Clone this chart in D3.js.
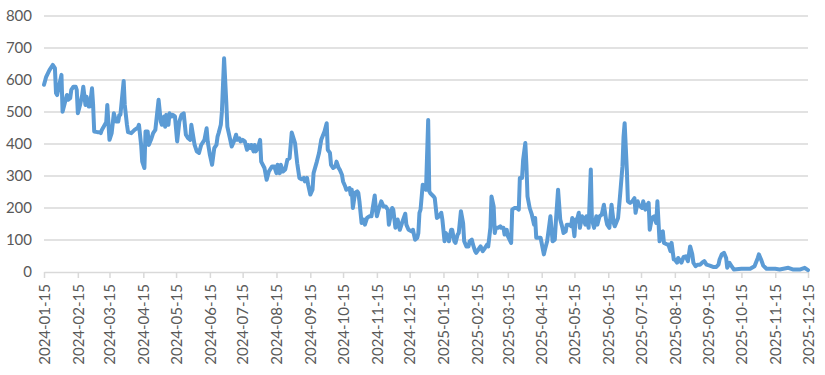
<!DOCTYPE html>
<html>
<head>
<script src="https://cdn.jsdelivr.net/npm/d3@7"></script>
<style>
body {
	margin: 0;
	background-color: white;
}
text {
	font-family: Lato, "Liberation Sans", sans-serif;
	font-size: 15px;
	fill: #595959;
}
</style>
</head>
<body>
<script>

var dates = [
	"2024-01-15","2024-01-17","2024-01-20","2024-01-23","2024-01-25","2024-01-26","2024-01-27","2024-01-29","2024-01-31",
	"2024-02-01","2024-02-03","2024-02-05","2024-02-06","2024-02-08","2024-02-09","2024-02-11","2024-02-13","2024-02-14","2024-02-15","2024-02-17","2024-02-19","2024-02-20","2024-02-22","2024-02-23","2024-02-25","2024-02-26","2024-02-28","2024-02-29",
	"2024-03-01","2024-03-04","2024-03-06","2024-03-07","2024-03-08","2024-03-12","2024-03-13","2024-03-15","2024-03-17","2024-03-19","2024-03-21","2024-03-23","2024-03-24","2024-03-25","2024-03-28","2024-03-29","2024-03-31",
	"2024-04-01","2024-04-04","2024-04-07","2024-04-10","2024-04-11","2024-04-13","2024-04-14","2024-04-16","2024-04-17","2024-04-19","2024-04-20","2024-04-22","2024-04-24","2024-04-26","2024-04-27","2024-04-29",
	"2024-05-01","2024-05-02","2024-05-04","2024-05-05","2024-05-06","2024-05-08","2024-05-09","2024-05-11","2024-05-12","2024-05-14","2024-05-16","2024-05-18","2024-05-20","2024-05-22","2024-05-24","2024-05-26","2024-05-28","2024-05-29","2024-05-30",
	"2024-06-01","2024-06-03","2024-06-05","2024-06-07","2024-06-10","2024-06-12","2024-06-13","2024-06-15","2024-06-17","2024-06-19","2024-06-21","2024-06-22","2024-06-23","2024-06-25","2024-06-26","2024-06-28","2024-06-30",
	"2024-07-01","2024-07-03","2024-07-05","2024-07-07","2024-07-09","2024-07-10","2024-07-12","2024-07-13","2024-07-15","2024-07-17","2024-07-19","2024-07-20","2024-07-22","2024-07-23","2024-07-25","2024-07-26","2024-07-27","2024-07-29","2024-07-31",
	"2024-08-01","2024-08-04","2024-08-06","2024-08-08","2024-08-11","2024-08-13","2024-08-15","2024-08-16","2024-08-18","2024-08-19","2024-08-21","2024-08-23","2024-08-25","2024-08-27","2024-08-29",
	"2024-09-01","2024-09-03","2024-09-05","2024-09-07","2024-09-09","2024-09-10","2024-09-12","2024-09-13","2024-09-15","2024-09-17","2024-09-18","2024-09-21","2024-09-23","2024-09-25","2024-09-28","2024-09-30",
	"2024-10-01","2024-10-03","2024-10-04","2024-10-06","2024-10-08","2024-10-09","2024-10-11","2024-10-12","2024-10-14","2024-10-15","2024-10-17","2024-10-18","2024-10-21","2024-10-22","2024-10-23","2024-10-24","2024-10-26","2024-10-28","2024-10-29","2024-10-30",
	"2024-11-01","2024-11-03","2024-11-04","2024-11-06","2024-11-08","2024-11-10","2024-11-13","2024-11-14","2024-11-15","2024-11-17","2024-11-19","2024-11-21","2024-11-23","2024-11-25","2024-11-26","2024-11-29","2024-11-30",
	"2024-12-02","2024-12-04","2024-12-06","2024-12-08","2024-12-11","2024-12-12","2024-12-14","2024-12-17","2024-12-18","2024-12-20","2024-12-22","2024-12-23","2024-12-24","2024-12-25","2024-12-27","2024-12-28","2024-12-30",
	"2025-01-01","2025-01-02","2025-01-03","2025-01-06","2025-01-07","2025-01-09","2025-01-11","2025-01-13","2025-01-14","2025-01-16","2025-01-17","2025-01-19","2025-01-20","2025-01-22","2025-01-23","2025-01-25","2025-01-26","2025-01-28","2025-01-29","2025-01-31",
	"2025-02-02","2025-02-03","2025-02-05","2025-02-07","2025-02-08","2025-02-10","2025-02-11","2025-02-13","2025-02-14","2025-02-17","2025-02-18","2025-02-20","2025-02-22","2025-02-24","2025-02-25","2025-02-27","2025-02-28",
	"2025-03-02","2025-03-03","2025-03-04","2025-03-06","2025-03-08","2025-03-09","2025-03-11","2025-03-12","2025-03-14","2025-03-15","2025-03-18","2025-03-19","2025-03-21","2025-03-23","2025-03-25","2025-03-26","2025-03-28","2025-03-29","2025-03-31",
	"2025-04-01","2025-04-02","2025-04-04","2025-04-06","2025-04-08","2025-04-09","2025-04-10","2025-04-13","2025-04-14","2025-04-17","2025-04-18","2025-04-20","2025-04-22","2025-04-23","2025-04-25","2025-04-27","2025-04-28","2025-04-30",
	"2025-05-02","2025-05-04","2025-05-05","2025-05-07","2025-05-08","2025-05-10","2025-05-12","2025-05-13","2025-05-15","2025-05-16","2025-05-17","2025-05-19","2025-05-20","2025-05-22","2025-05-23","2025-05-25","2025-05-26","2025-05-28","2025-05-30","2025-05-31",
	"2025-06-02","2025-06-04","2025-06-05","2025-06-07","2025-06-09","2025-06-11","2025-06-13","2025-06-14","2025-06-16","2025-06-18","2025-06-20","2025-06-21","2025-06-24","2025-06-26","2025-06-28","2025-06-29","2025-06-30",
	"2025-07-02","2025-07-03","2025-07-05","2025-07-07","2025-07-09","2025-07-10","2025-07-12","2025-07-13","2025-07-16","2025-07-17","2025-07-19","2025-07-20","2025-07-22","2025-07-23","2025-07-25","2025-07-27","2025-07-29","2025-07-30",
	"2025-08-01","2025-08-02","2025-08-04","2025-08-05","2025-08-08","2025-08-09","2025-08-11","2025-08-12","2025-08-14","2025-08-15","2025-08-17","2025-08-18","2025-08-21","2025-08-23","2025-08-25","2025-08-27","2025-08-29","2025-08-31",
	"2025-09-01","2025-09-03","2025-09-05","2025-09-07","2025-09-09","2025-09-11","2025-09-13","2025-09-16","2025-09-19","2025-09-22","2025-09-24","2025-09-25","2025-09-27","2025-09-29",
	"2025-10-01","2025-10-02","2025-10-04","2025-10-05","2025-10-08","2025-10-15","2025-10-23","2025-10-27","2025-10-30","2025-10-31",
	"2025-11-02","2025-11-04","2025-11-07","2025-11-15","2025-11-19","2025-11-27",
	"2025-12-01","2025-12-08","2025-12-12","2025-12-15"
];

var values = [
	585,610,631,647,637,559,553,585,616,
	501,527,553,538,543,569,579,579,569,496,522,553,579,522,548,517,517,574,522,
	439,437,437,434,444,468,522,413,434,496,470,470,491,491,597,522,460,
	437,434,444,451,460,397,345,325,439,439,397,413,434,444,475,538,
	470,460,486,454,491,460,496,486,491,486,408,470,491,496,429,418,413,460,439,
	397,377,372,397,413,449,408,366,335,387,397,423,434,460,501,668,532,
	454,423,392,408,429,413,418,408,413,408,382,397,387,397,377,397,377,387,413,
	345,325,288,314,330,330,309,335,309,335,314,320,351,356,436,
	403,340,294,290,294,283,294,273,242,257,309,345,372,413,439,465,
	382,372,335,325,330,345,325,320,304,283,267,257,262,242,257,200,247,252,247,221,
	153,164,148,169,174,174,239,200,174,200,221,205,205,195,148,200,195,
	138,164,132,153,182,148,132,127,132,101,107,122,185,195,273,267,257,
	475,252,246,236,231,169,174,185,164,96,122,112,96,132,132,96,91,117,122,190,
	153,96,80,80,96,101,86,65,60,75,80,65,75,86,80,138,236,
	205,122,138,138,143,138,138,117,132,112,91,195,200,200,195,294,294,351,403,
	335,236,200,179,148,169,107,107,107,55,70,96,148,174,96,101,158,257,
	164,138,122,127,148,148,143,169,112,164,158,185,138,174,169,148,174,138,320,164,
	138,174,148,174,179,210,164,148,138,210,153,143,169,247,330,423,465,
	320,221,216,221,231,185,221,210,200,221,195,205,216,132,169,174,153,221,
	96,122,127,91,86,86,65,91,39,39,29,44,29,47,49,34,80,55,
	29,18,23,23,29,34,23,20,16,16,23,39,55,60,
	44,13,29,23,8,10,10,18,44,55,
	39,20,10,10,8,13,
	8,8,13,6
];

var xTickLabels = [
	"2024-01-15","2024-02-15","2024-03-15","2024-04-15","2024-05-15","2024-06-15",
	"2024-07-15","2024-08-15","2024-09-15","2024-10-15","2024-11-15","2024-12-15",
	"2025-01-15","2025-02-15","2025-03-15","2025-04-15","2025-05-15","2025-06-15",
	"2025-07-15","2025-08-15","2025-09-15","2025-10-15","2025-11-15","2025-12-15"
];

var yTicks = [0, 100, 200, 300, 400, 500, 600, 700, 800];

var w = 825;
var h = 375;

var parse = d3.timeParse("%Y-%m-%d");
var fmt = d3.timeFormat("%Y-%m-%d");

var data = dates.map(function(d, i) {
	return { date: parse(d), v: values[i] };
});
var tickDates = xTickLabels.map(parse);

var x = d3.scaleTime()
	.domain([tickDates[0], tickDates[tickDates.length - 1]])
	.range([44, 808]);

var y = d3.scaleLinear()
	.domain([0, 800])
	.range([272, 16]);

var svg = d3.select("body").append("svg")
	.attr("width", w)
	.attr("height", h);

// horizontal gridlines
svg.append("g").selectAll("line").data(yTicks.slice(1)).enter().append("line")
	.attr("x1", 44)
	.attr("x2", 808)
	.attr("y1", function(d) { return y(d); })
	.attr("y2", function(d) { return y(d); })
	.style("stroke", "#d9d9d9")
	.style("stroke-width", 1.5);

// y labels
svg.append("g").selectAll("text").data(yTicks).enter().append("text")
	.attr("x", 32)
	.attr("y", function(d) { return y(d); })
	.attr("dy", "0.35em")
	.attr("text-anchor", "end")
	.text(function(d) { return d; });

// x axis
var xAxis = d3.axisBottom(x)
	.tickValues(tickDates)
	.tickFormat(fmt)
	.tickSize(6)
	.tickSizeOuter(0);

var gx = svg.append("g")
	.attr("transform", "translate(0,272)")
	.call(xAxis);

gx.select(".domain").style("stroke", "#d9d9d9").style("stroke-width", 1.5);
gx.selectAll(".tick line").style("stroke", "#d9d9d9").style("stroke-width", 1.5);
gx.selectAll(".tick text")
	.attr("transform", "rotate(-90)")
	.attr("text-anchor", "end")
	.attr("x", -12)
	.attr("y", 0)
	.attr("dy", "0.35em")
	.style("font-family", "Lato, 'Liberation Sans', sans-serif")
	.style("font-size", "15px")
	.style("fill", "#595959");

// the series
var line = d3.line()
	.x(function(d) { return x(d.date); })
	.y(function(d) { return y(d.v); });

svg.append("path")
	.datum(data)
	.attr("d", line)
	.style("fill", "none")
	.style("stroke", "#5b9bd5")
	.style("stroke-width", 4)
	.style("stroke-linejoin", "round")
	.style("stroke-linecap", "round");

</script>
</body>
</html>
